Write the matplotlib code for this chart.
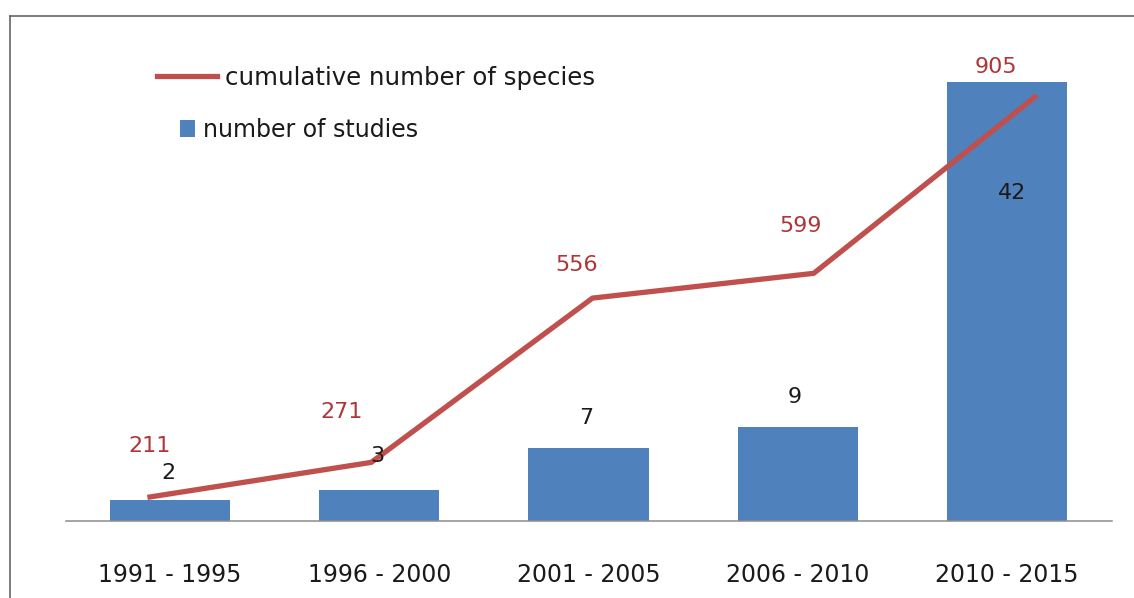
import matplotlib
matplotlib.use("Agg")
import matplotlib.pyplot as plt
from matplotlib.lines import Line2D
import numpy as np

# Data
periods = ["1991 - 1995", "1996 - 2000", "2001 - 2005", "2006 - 2010", "2010 - 2015"]
studies = [2, 3, 7, 9, 42]
species_cumulative = [211, 271, 556, 599, 905]

# Label placement (pixel offsets from the mark)
study_label_offsets = [(-2, 27), (-2, 34), (-2, 30), (-3, 30), (5, -111)]
species_label_offsets = [(0, 51), (-30, 50), (-16, 33), (-13, 47), (-39, 30)]

W, H, DPI = 1134, 598, 100
BAR_BLUE = "#4F81BD"
LINE_RED = "#C0504D"
LABEL_RED = "#B03539"
TEXT = "#1a1a1a"

plt.rcParams["font.family"] = ["DejaVu Sans"]


def fx(px):
    return px / W


def fy(py):
    return 1 - py / H


fig = plt.figure(figsize=(W / DPI, H / DPI), dpi=DPI)

# Plot area for the bars (categories)
left, right, top, base = 65.5, 1111.5, 40, 521
ax = fig.add_axes([fx(left), fy(base), (right - left) / W, (base - top) / H])
x = np.arange(len(periods))
bars = ax.bar(x, studies, width=0.575, color=BAR_BLUE, label="number of studies")
ax.set_xlim(-0.5, len(periods) - 0.5)
ax.set_ylim(0, 46.0)
ax.set_xticks(x, periods)
ax.tick_params(axis="x", length=0, pad=30.4, labelsize=17, labelcolor=TEXT)
ax.set_yticks([])
for s in ("top", "left", "right"):
    ax.spines[s].set_visible(False)
ax.spines["bottom"].set_color("#8c8c8c")
ax.spines["bottom"].set_linewidth(1.1)
ax.patch.set_visible(False)

# Secondary axes for the cumulative species line
lx0, lx1 = 150, 1035
lax = fig.add_axes([fx(lx0), fy(base), (lx1 - lx0) / W, (base - top) / H])
line, = lax.plot(x, species_cumulative, color=LINE_RED, lw=3.8,
                 label="cumulative number of species", clip_on=False)
lax.set_xlim(0, len(periods) - 1)
lax.set_ylim(169.3, 1003.8)
lax.axis("off")

for i, (v, off) in enumerate(zip(species_cumulative, species_label_offsets)):
    lax.annotate(str(v), xy=(i, v), xytext=off, textcoords="offset pixels",
                 ha="center", va="center", fontsize=16, color=LABEL_RED,
                 annotation_clip=False)

for i, (v, off) in enumerate(zip(studies, study_label_offsets)):
    lax.annotate(str(v), xy=(i, v), xycoords=ax.transData, xytext=off,
                 textcoords="offset pixels", ha="center", va="center",
                 fontsize=16, color=TEXT, annotation_clip=False)

# Legend entries
fig.legend(handles=[line], loc="center left", bbox_to_anchor=(fx(157), fy(78)),
           frameon=False, fontsize=17.6, handlelength=2.45, handletextpad=0.33,
           borderpad=0, borderaxespad=0, labelcolor=TEXT)
fig.legend(handles=[bars], loc="center left", bbox_to_anchor=(fx(180), fy(130)),
           frameon=False, fontsize=17, handlelength=0.64, handleheight=0.7,
           handletextpad=0.34, borderpad=0, borderaxespad=0, labelcolor=TEXT)

# Outer frame (top and left edges)
fig.add_artist(Line2D([fx(10), 1], [fy(16), fy(16)], transform=fig.transFigure,
                      color="#666666", lw=1.2))
fig.add_artist(Line2D([fx(10), fx(10)], [fy(16), 0], transform=fig.transFigure,
                      color="#666666", lw=1.2))

fig.savefig("out.png", dpi=DPI)
